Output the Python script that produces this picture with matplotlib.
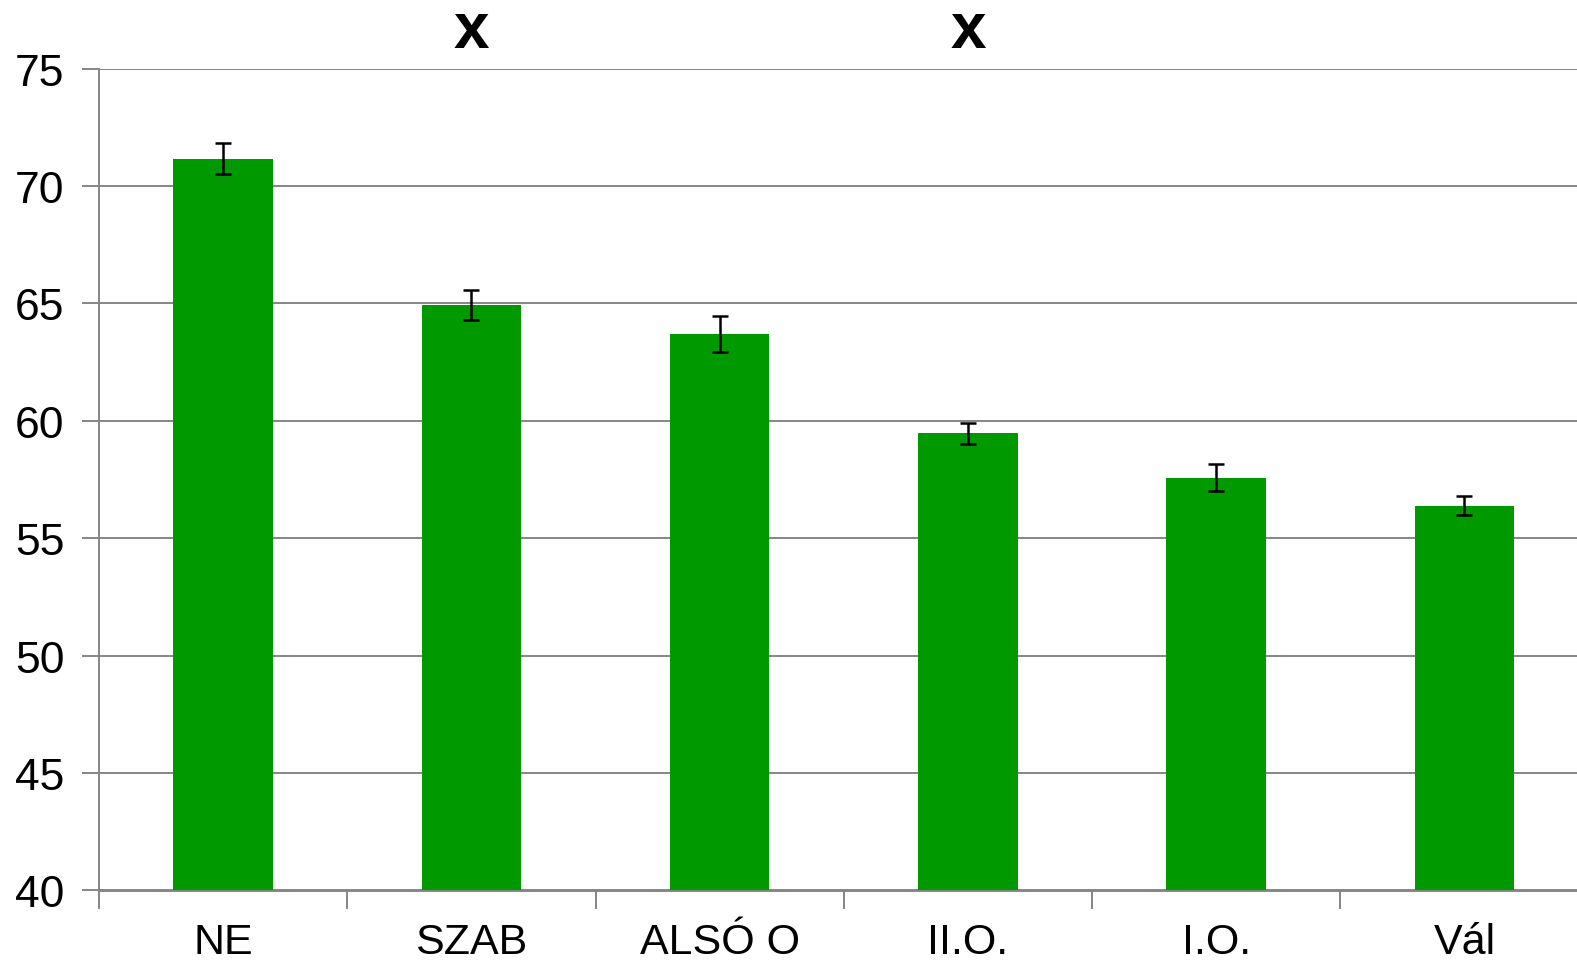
import matplotlib
matplotlib.use("Agg")
import matplotlib.pyplot as plt
from matplotlib.ticker import FixedLocator, NullFormatter

categories = ["NE", "SZAB", "ALSÓ O", "II.O.", "I.O.", "Vál"]
means = [71.15, 64.95, 63.70, 59.47, 57.58, 56.39]
errors = [0.66, 0.64, 0.77, 0.45, 0.56, 0.39]
marked = ["SZAB", "II.O."]
yticks = [40, 45, 50, 55, 60, 65, 70, 75]

plt.rcParams["font.family"] = ["Liberation Sans", "DejaVu Sans"]

fig = plt.figure(figsize=(15.77, 9.62), dpi=100)
# plot area runs slightly past the right edge of the canvas
ax = fig.add_axes([99 / 1577, 1 - 891.5 / 962, 1489.5 / 1577, (891.5 - 69.5) / 962])

x = list(range(len(categories)))
ax.bar(x, means, width=0.4, color="#009900", zorder=2)
ax.errorbar(x, means, yerr=errors, fmt="none", ecolor="black",
            elinewidth=1.8, capsize=6, capthick=1.8, zorder=3)

ax.set_ylim(40, 75)
ax.set_xlim(-0.5, len(categories) - 0.5)
ax.set_yticks(yticks)
ax.yaxis.grid(True, color="#868686", linewidth=1.4, zorder=0)
ax.set_axisbelow(True)

for side in ("top", "right"):
    ax.spines[side].set_visible(False)
for side in ("left", "bottom"):
    ax.spines[side].set_color("#868686")
    ax.spines[side].set_linewidth(1.4)

ax.tick_params(axis="y", length=12, width=1.4, color="#868686",
               labelsize=32, pad=13)
# category boundaries carry the x tick marks; names sit at bar centres
ax.xaxis.set_major_locator(FixedLocator([i - 0.5 for i in range(len(categories) + 1)]))
ax.xaxis.set_major_formatter(NullFormatter())
ax.xaxis.set_minor_locator(FixedLocator(x))
ax.set_xticklabels(categories, minor=True)
ax.tick_params(axis="x", which="major", length=13, width=1.4, color="#868686")
ax.tick_params(axis="x", which="minor", length=0, labelsize=31, pad=23)

for name in marked:
    i = categories.index(name)
    ax.text(i, 75.9, "x", ha="center", va="baseline", fontsize=46,
            fontweight="bold", clip_on=False)

fig.savefig("out.png", dpi=100)
